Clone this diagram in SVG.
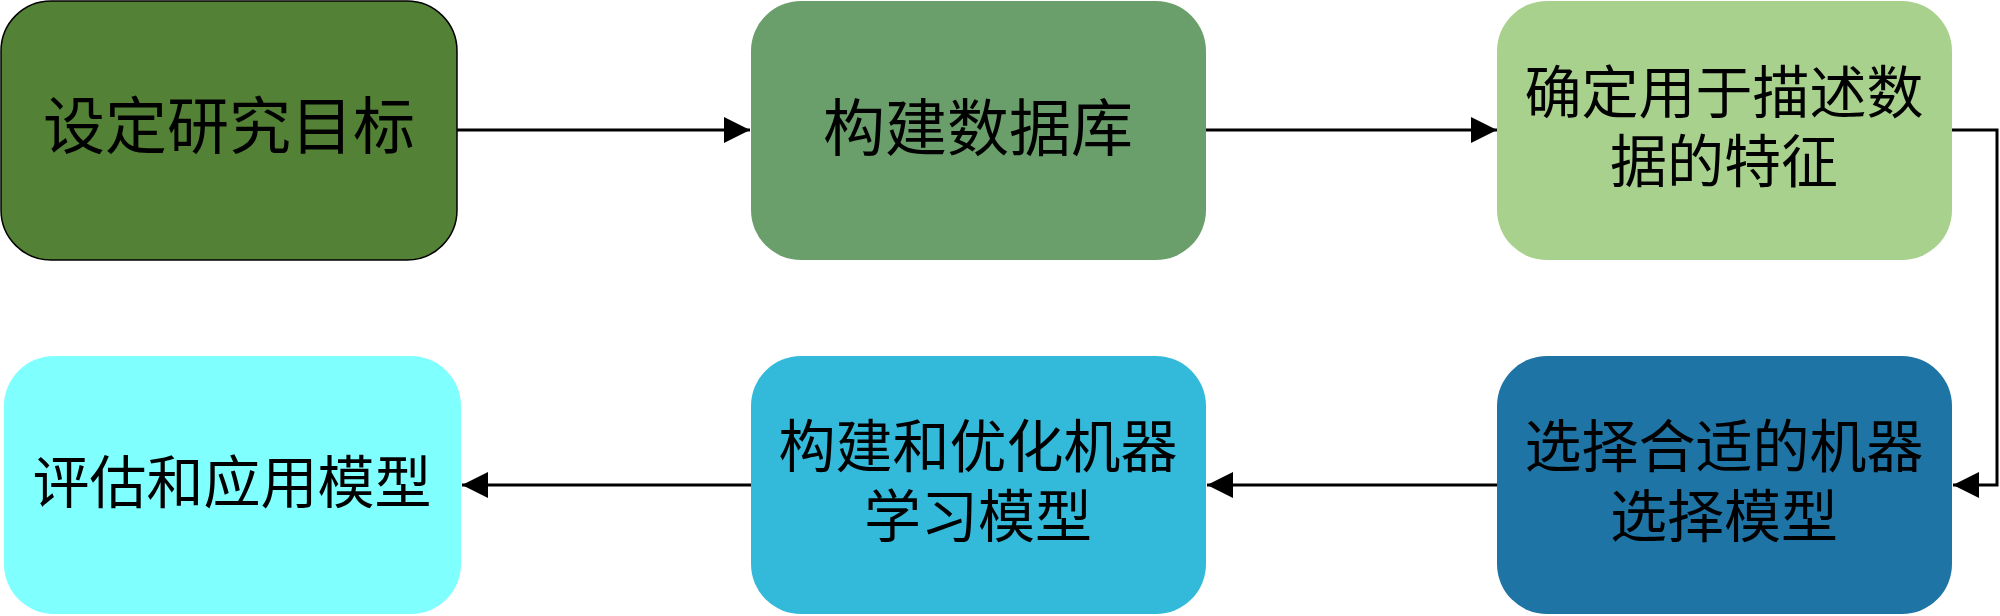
<svg xmlns="http://www.w3.org/2000/svg" width="2000" height="616" viewBox="0 0 2000 616">
<style>
  .lbl { font-family: "Liberation Serif", "Noto Sans CJK SC", serif; font-size: 57px; fill: #000; text-anchor: middle; dominant-baseline: central; }
  .big { font-size: 62px; }
  .conn { fill: none; stroke: #000; stroke-width: 3; }
</style>
<defs>
  <marker id="ah" viewBox="0 0 26 26" refX="26" refY="13" markerWidth="26" markerHeight="26" markerUnits="userSpaceOnUse" orient="auto">
    <path d="M0,0 L26,13 L0,26 Z" fill="#000"/>
  </marker>
</defs>
<rect width="2000" height="616" fill="#fff"/>
<g id="connectors">
  <path class="conn" d="M457,130 H750" marker-end="url(#ah)"/>
  <path class="conn" d="M1206,130 H1497" marker-end="url(#ah)"/>
  <path class="conn" d="M1952,130 H1997 V485 H1953" marker-end="url(#ah)"/>
  <path class="conn" d="M1497,485 H1207" marker-end="url(#ah)"/>
  <path class="conn" d="M751,485 H462" marker-end="url(#ah)"/>
</g>
<g id="node1">
  <rect x="1" y="1" width="456" height="259" rx="50" fill="#538135" stroke="#000" stroke-width="1.5"/>
  <text class="lbl big" x="229" y="128">设定研究目标</text>
</g>
<g id="node2">
  <rect x="751" y="1" width="455" height="259" rx="50" fill="#6A9F6C"/>
  <text class="lbl big" x="978" y="130">构建数据库</text>
</g>
<g id="node3">
  <rect x="1497" y="1" width="455" height="259" rx="50" fill="#A9D18E"/>
  <text class="lbl" x="1724" y="93">确定用于描述数</text>
  <text class="lbl" x="1724" y="162">据的特征</text>
</g>
<g id="node4">
  <rect x="4" y="356" width="457" height="258" rx="50" fill="#80FFFF"/>
  <text class="lbl" x="232" y="483">评估和应用模型</text>
</g>
<g id="node5">
  <rect x="751" y="356" width="455" height="258" rx="50" fill="#33BADB"/>
  <text class="lbl" x="978" y="447">构建和优化机器</text>
  <text class="lbl" x="978" y="517">学习模型</text>
</g>
<g id="node6">
  <rect x="1497" y="356" width="455" height="258" rx="50" fill="#1F74A6"/>
  <text class="lbl" x="1724" y="447">选择合适的机器</text>
  <text class="lbl" x="1724" y="517">选择模型</text>
</g>
</svg>
